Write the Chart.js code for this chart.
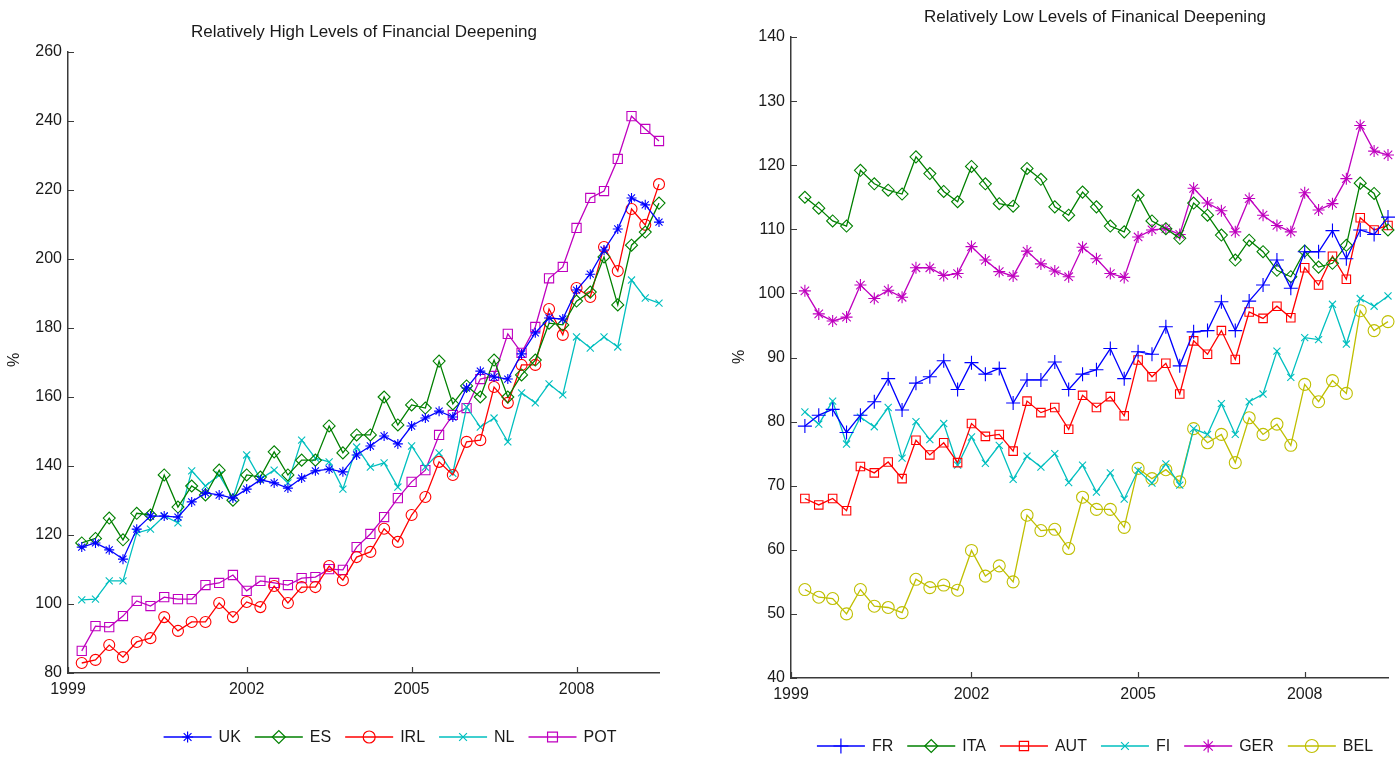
<!DOCTYPE html>
<html><head><meta charset="utf-8">
<script src="https://cdn.jsdelivr.net/npm/chart.js@4.4.1/dist/chart.umd.min.js"></script>
<style>
html,body{margin:0;padding:0;background:#fff;width:1399px;height:758px;overflow:hidden}
canvas{position:absolute;top:0}
#c1{left:0}
#c2{left:700px}
</style></head><body>
<canvas id="c1" width="700" height="758"></canvas>
<canvas id="c2" width="699" height="758"></canvas>
<script>
// ---------- DATA ----------
const quarters = [1999.00,1999.25,1999.50,1999.75,2000.00,2000.25,2000.50,2000.75,2001.00,2001.25,2001.50,2001.75,
  2002.00,2002.25,2002.50,2002.75,2003.00,2003.25,2003.50,2003.75,2004.00,2004.25,2004.50,2004.75,
  2005.00,2005.25,2005.50,2005.75,2006.00,2006.25,2006.50,2006.75,2007.00,2007.25,2007.50,2007.75,
  2008.00,2008.25,2008.50,2008.75,2009.00,2009.25,2009.50];
const xTickValues = [1998.75, 2002, 2005, 2008];
const xTickLabels = ['1999', '2002', '2005', '2008'];

const leftTitle = 'Relatively High Levels of Financial Deepening';
const rightTitle = 'Relatively Low Levels of Finanical Deepening';
const yAxisLabel = '%';

// High financial deepening
const UK  = [116.5,117.7,115.7,113,121.7,125.5,125.5,125.2,129.6,132.2,131.6,130.7,133.3,136,135.1,133.6,136.5,138.6,139.1,138.3,143.2,145.8,148.7,146.4,151.6,153.9,155.9,154.2,162.6,167.5,165.8,165.2,172.5,178.6,182.9,182.6,191,195.6,202.6,208.7,217.7,215.7,210.7];
const ES  = [117.7,119,124.9,118.6,126.3,125.8,137.4,128.1,134.2,131.6,138.8,130.1,137.4,136.8,144.1,137.4,141.7,141.7,151.6,143.8,149,149,160,151.9,157.7,156.8,170.4,158,163.2,160,170.7,160,166.4,170.7,181.4,180.9,187.8,190.4,200.6,186.7,204,207.8,216.2];
const IRL = [82.9,83.8,88.1,84.6,89,90.1,96.2,92.2,94.8,94.8,100.3,96.2,100.6,99.1,105.2,100.3,104.9,104.9,111,106.9,113.6,115.1,121.8,118,125.8,131,141.2,137.4,147,147.5,162.9,158.3,169.3,169.3,185.5,178,191.6,189,203.5,196.5,214.5,209.9,221.7];
const NL  = [101.2,101.4,106.7,106.7,120.6,121.7,125.5,123.5,138.6,134.2,137.4,130.7,143.2,136.2,138.8,135.1,147.5,142.3,141.2,133.3,145.5,139.7,140.9,133.9,145.8,139.7,143.8,137.9,157.1,151.3,153.9,147,161.2,158.3,163.8,160.6,177.4,174.2,177.4,174.5,193.9,188.7,187.2];
const POT = [86.4,93.6,93.3,96.5,100.9,99.4,102,101.4,101.4,105.5,106.1,108.4,103.8,106.7,106.1,105.5,107.5,107.8,110.1,109.9,116.5,120.3,125.2,130.7,135.4,138.8,149,154.8,156.8,165.2,166.1,178.3,172.8,180.3,194.4,197.7,209,217.7,219.7,229,241.4,237.7,234.2];

// Low financial deepening
const FR  = [79.3,81,81.9,78.3,81,83.1,86.7,81.8,86,87,89.5,85,89.2,87.4,88.3,82.9,86.5,86.5,89.3,85,87.4,88.1,91.4,86.7,90.9,90.5,94.8,88.7,94,94.2,98.7,94.2,98.8,101.3,105.2,100.8,106.5,106.5,109.8,105.4,109.9,109.2,111.9];
const ITA = [115,113.3,111.3,110.5,119.2,117.1,116.1,115.5,121.3,118.7,115.9,114.3,119.8,117.1,114,113.6,119.5,117.8,113.5,112.2,115.8,113.5,110.5,109.6,115.3,111.3,110.1,108.6,114.1,112.2,109.1,105.2,108.3,106.5,103.6,102.6,106.6,104.1,104.7,107.5,117.2,115.6,109.9];
const AUT = [68,67,68,66.1,73,72,73.7,71.1,77.1,74.8,76.7,73.6,79.7,77.7,78,75.4,83.2,81.4,82.2,78.8,84.1,82.2,83.9,80.9,89.6,87,89.1,84.3,92.6,90.5,94.2,89.7,97.1,96.1,98,96.2,104,101.3,105.8,102.2,111.8,109.9,110.6];
const FI  = [81.5,79.6,83.2,76.5,80.7,79.2,82.2,74.3,80,77.2,79.7,73.2,77.6,73.5,76.3,71,74.6,72.9,75,70.5,73.2,69,72,67.9,72.4,70.4,73.4,70.1,78.9,78,82.8,78,83.1,84.3,91,86.9,93.1,92.8,98.3,92.1,99.2,98,99.6];
const GER = [100.4,96.8,95.7,96.3,101.3,99.2,100.5,99.4,104,104,102.8,103.1,107.3,105.2,103.4,102.7,106.6,104.6,103.5,102.6,107.2,105.4,103.1,102.5,108.8,109.9,110.1,109.2,116.4,114.1,112.9,109.6,114.8,112.2,110.6,109.6,115.7,113,114,117.9,126.2,122.2,121.6];
const BEL = [53.8,52.6,52.4,50,53.8,51.2,51,50.2,55.4,54.1,54.5,53.7,59.9,55.9,57.5,55,65.4,63,63.2,60.2,68.2,66.3,66.3,63.5,72.7,71.1,72.5,70.6,78.9,76.7,78,73.6,80.6,78,79.6,76.3,85.8,83.1,86.4,84.4,97.3,94.2,95.6];

// ---------- STYLE ----------
const C = {blue:'#0000FF', green:'#008000', red:'#FF0000', cyan:'#00BFBF', magenta:'#BF00BF', yellow:'#BFBF00'};
const FONT = '"Liberation Sans", Arial, sans-serif';
const TEXT = '#1a1a1a';
const AXIS = '#3a3a3a';

function series(label, values, color, style, radius) {
  return {
    label, data: values.map((v, i) => ({x: quarters[i], y: v})),
    borderColor: color, backgroundColor: 'rgba(0,0,0,0)',
    borderWidth: 1.3, pointStyle: style, pointRadius: radius, pointHoverRadius: radius,
    pointBorderColor: color, pointBackgroundColor: 'rgba(0,0,0,0)', pointBorderWidth: 1.1,
    tension: 0, fill: false, clip: false
  };
}

const decor = {
  id: 'decor',
  afterDraw(chart, args, o) {
    const ctx = chart.ctx, ca = chart.chartArea, xs = chart.scales.x, ys = chart.scales.y;
    ctx.save();
    ctx.strokeStyle = AXIS; ctx.lineWidth = 1.2;
    ctx.beginPath();
    ys.ticks.forEach(t => { const y = Math.round(ys.getPixelForValue(t.value)) + 0.5; ctx.moveTo(ca.left, y); ctx.lineTo(ca.left + 6, y); });
    xs.ticks.forEach(t => { const x = Math.round(xs.getPixelForValue(t.value)) + 0.5; ctx.moveTo(x, ca.bottom); ctx.lineTo(x, ca.bottom - 6); });
    ctx.stroke();
    // title
    ctx.fillStyle = TEXT; ctx.font = '17px ' + FONT; ctx.textAlign = 'center'; ctx.textBaseline = 'middle';
    ctx.fillText(o.title, o.titleX, o.titleY);
    // y label
    ctx.font = '16px ' + FONT;
    ctx.save(); ctx.translate(o.ylabX, o.ylabY); ctx.rotate(-Math.PI / 2);
    ctx.fillText(yAxisLabel, 0, 0); ctx.restore();
    // legend
    const lineLen = 48, gap = 7, itemGap = 14;
    ctx.font = '16px ' + FONT;
    const items = chart.data.datasets.map(d => ({d, w: ctx.measureText(d.label).width}));
    const total = items.reduce((s, it) => s + lineLen + gap + it.w, 0) + itemGap * (items.length - 1);
    let x = o.legendX - total / 2; const y = o.legendY;
    items.forEach(it => {
      const d = it.d;
      ctx.strokeStyle = d.borderColor; ctx.lineWidth = 1.5;
      ctx.beginPath(); ctx.moveTo(x, y); ctx.lineTo(x + lineLen, y); ctx.stroke();
      ctx.lineWidth = 1.2; ctx.fillStyle = 'rgba(0,0,0,0)';
      Chart.helpers.drawPoint(ctx, {pointStyle: d.pointStyle, radius: d.pointRadius + 0.5, borderWidth: 1.2, rotation: 0}, x + lineLen / 2, y);
      ctx.fillStyle = TEXT; ctx.textAlign = 'left'; ctx.textBaseline = 'middle';
      ctx.fillText(d.label, x + lineLen + gap, y + 1);
      x += lineLen + gap + it.w + itemGap;
    });
    ctx.restore();
  }
};

function makeChart(id, datasets, yMin, yMax, yStep, yWidth, pad, deco) {
  return new Chart(document.getElementById(id), {
    type: 'line',
    data: {datasets},
    plugins: [decor],
    options: {
      responsive: false, animation: false, events: [],
      layout: {padding: pad},
      plugins: {legend: {display: false}, title: {display: false}, tooltip: {enabled: false}, decor: deco},
      scales: {
        x: {
          type: 'linear', min: 1998.75, max: 2009.5,
          afterBuildTicks: s => { s.ticks = xTickValues.map(v => ({value: v})); },
          afterFit: s => { s.height = 40; },
          ticks: {
            autoSkip: false, maxRotation: 0, padding: 7, color: TEXT, font: {family: FONT, size: 16},
            callback: (v, i) => xTickLabels[i]
          },
          grid: {display: true, drawOnChartArea: false, drawTicks: false},
          border: {display: true, color: AXIS, width: 1.5}
        },
        y: {
          min: yMin, max: yMax,
          afterFit: s => { s.width = yWidth; },
          ticks: {stepSize: yStep, padding: 6, color: TEXT, font: {family: FONT, size: 16}},
          grid: {display: true, drawOnChartArea: false, drawTicks: false},
          border: {display: true, color: AXIS, width: 1.5}
        }
      }
    }
  });
}

makeChart('c1', [
  series('UK', UK, C.blue, 'star', 5),
  series('ES', ES, C.green, 'rectRot', 6),
  series('IRL', IRL, C.red, 'circle', 5.5),
  series('NL', NL, C.cyan, 'crossRot', 5),
  series('POT', POT, C.magenta, 'rect', 6.5)
], 80, 260, 20, 68, {left: 0, right: 41, top: 52, bottom: 45},
  {title: leftTitle, titleX: 364, titleY: 32, ylabX: 15, ylabY: 360, legendX: 390, legendY: 737});

makeChart('c2', [
  series('FR', FR, C.blue, 'cross', 7),
  series('ITA', ITA, C.green, 'rectRot', 6),
  series('AUT', AUT, C.red, 'rect', 6),
  series('FI', FI, C.cyan, 'crossRot', 5),
  series('GER', GER, C.magenta, 'star', 6),
  series('BEL', BEL, C.yellow, 'circle', 6)
], 40, 140, 10, 91, {left: 0, right: 11, top: 37, bottom: 40},
  {title: rightTitle, titleX: 395, titleY: 17, ylabX: 40, ylabY: 357, legendX: 395, legendY: 746});
</script>
</body></html>
